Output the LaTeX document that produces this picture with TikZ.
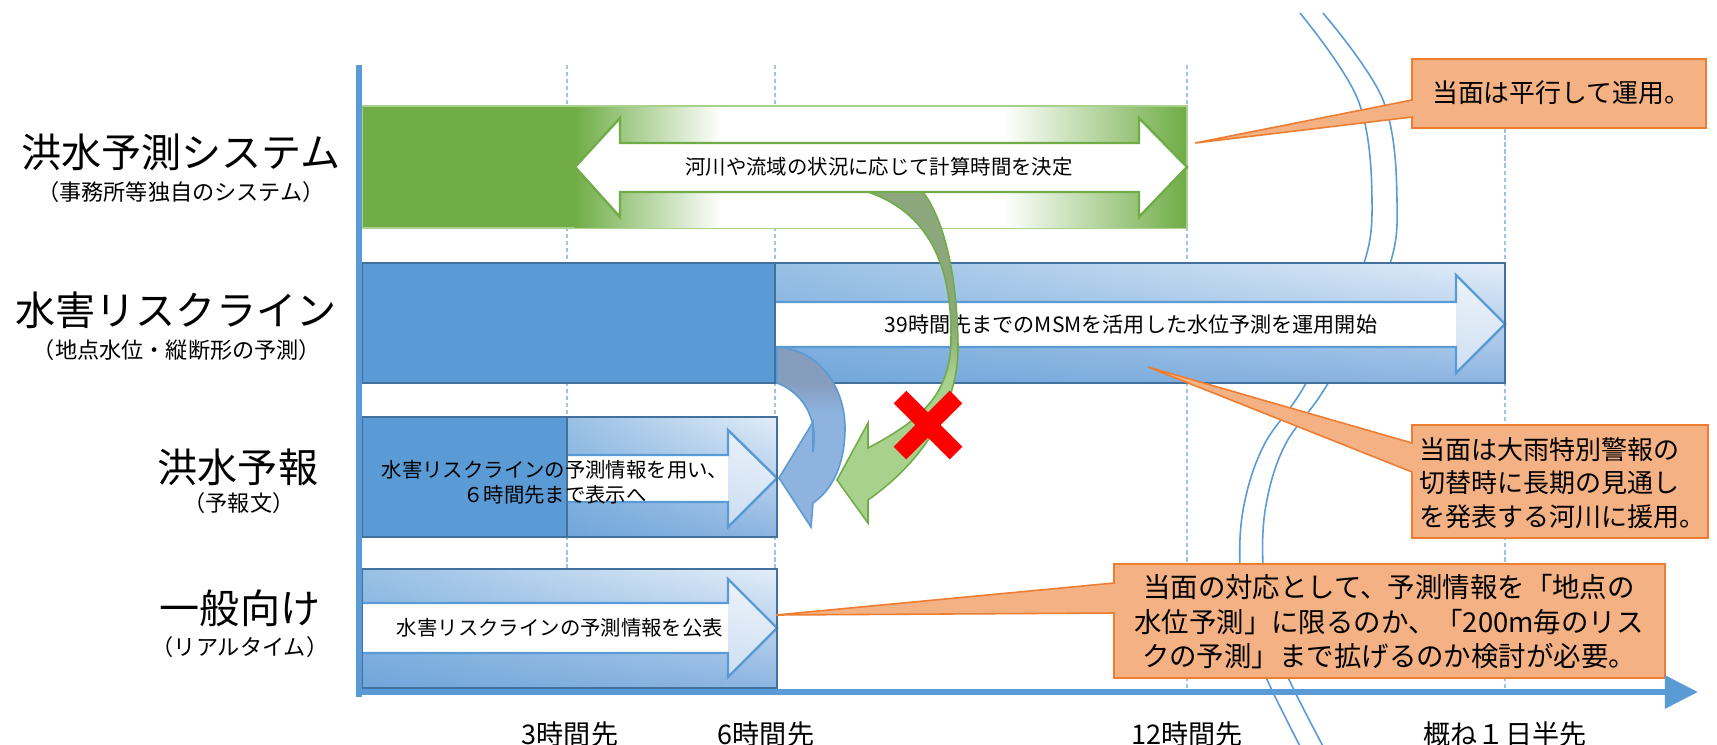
\documentclass[tikz,border=0pt]{standalone}
\usepackage{fontspec}
\setmainfont{Noto Sans CJK JP}
\usetikzlibrary{arrows.meta, fadings}

\definecolor{axisBlue}{HTML}{5B9BD5}
\definecolor{frameBlue}{HTML}{41719C}
\definecolor{gridBlue}{HTML}{9DC3E6}
\definecolor{fadeTop}{HTML}{E4EEF9}
\definecolor{fadeBottom}{HTML}{8DB5E2}
\definecolor{curveBlue}{HTML}{8EB3DF}
\definecolor{curveBlueDark}{HTML}{869CBD}
\definecolor{barGreen}{HTML}{70AD47}
\definecolor{edgeGreen}{HTML}{A9D18E}
\definecolor{curveGreenDark}{HTML}{8BA77B}
\definecolor{noteFill}{HTML}{F4B183}
\definecolor{noteLine}{HTML}{ED7D31}

% green bar: solid at the ends, white in the middle
\pgfdeclarehorizontalshading{greenband}{100bp}{color(0bp)=(barGreen); color(25bp)=(barGreen); color(37bp)=(white); color(60bp)=(white); color(75bp)=(barGreen); color(100bp)=(barGreen)}
% curved arrows: darker back side on top
\pgfdeclareverticalshading{greencurve}{100bp}{color(0bp)=(edgeGreen); color(47bp)=(edgeGreen); color(55bp)=(curveGreenDark); color(100bp)=(curveGreenDark)}
\pgfdeclareverticalshading{bluecurve}{100bp}{color(0bp)=(curveBlue); color(57bp)=(curveBlue); color(65bp)=(curveBlueDark); color(100bp)=(curveBlueDark)}
\tikzfading[name=fadeeast, left color=transparent!45, right color=transparent!100]

\begin{document}
\begin{tikzpicture}[
    x=0.01cm, y=-0.01cm,
    % Estilos
    gridline/.style={gridBlue, line width=0.3pt, dash pattern=on 1.2pt off 0.8pt},
    axisline/.style={axisBlue, line width=1.7pt},
    breakline/.style={axisBlue, line width=0.45pt},
    barframe/.style={draw=frameBlue, line width=0.57pt},
    bluearrow/.style={draw=axisBlue, line width=0.7pt},
    greenarrow/.style={draw=barGreen, line width=0.7pt, fill=white},
    rowtitle/.style={inner sep=0pt, font=\fontsize{11.4}{13}\selectfont},
    rowsub/.style={inner sep=0pt, font=\fontsize{6.3}{7.5}\selectfont},
    bartext/.style={inner sep=0pt, align=center, font=\fontsize{5.8}{7.1}\selectfont},
    notebox/.style={draw=noteLine, line width=0.45pt, fill=noteFill},
    notetext/.style={inner sep=0pt, font=\fontsize{7.4}{9.5}\selectfont},
    ticklabel/.style={inner sep=0pt, font=\fontsize{7.7}{9}\selectfont},
    redcross/.style={red, line width=5.1pt}
]
    \useasboundingbox (0,0) rectangle (1717,745);
    \fill[white] (0,0) rectangle (1717,745);

    % --- GRADE ---
    \foreach \gx in {567,775,1187,1505}
        \draw[gridline] (\gx,65) -- (\gx,692);

    % quebra do eixo do tempo
    \draw[breakline] plot[smooth, tension=0.6] coordinates {(1300,13) (1358,100) (1372,200) (1360,275) (1305,385) (1264,445) (1244,505) (1240,565) (1249,625) (1265,675) (1302,750)};
    \draw[breakline] plot[smooth, tension=0.6] coordinates {(1323,13) (1383,100) (1397,200) (1386,275) (1327,385) (1285,445) (1266,505) (1263,565) (1271,625) (1287,675) (1325,750)};

    % --- TITULOS DAS LINHAS ---
    \node[rowtitle] (t-system) at (181,152) {洪水予測システム};
    \node[rowsub] (s-system) at (181,192) {（事務所等独自のシステム）};
    \node[rowtitle] (t-riskline) at (176,310) {水害リスクライン};
    \node[rowsub] (s-riskline) at (177,350) {（地点水位・縦断形の予測）};
    \node[rowtitle] (t-forecast) at (238,467) {洪水予報};
    \node[rowsub] (s-forecast) at (239,503) {（予報文）};
    \node[rowtitle] (t-public) at (240,608) {一般向け};
    \node[rowsub] (s-public) at (240,647) {（リアルタイム）};

    % --- LINHA 1: sistema proprio ---
    \fill[barGreen, draw=edgeGreen, line width=0.4pt] (362,106) rectangle (1187,228);
    \shade[shading=greenband] (575,107) rectangle (1186,227);
    \draw[greenarrow] (575,167) -- (620,118) -- (620,143) -- (1139,143) -- (1139,118) -- (1187,167)
        -- (1139,217) -- (1139,192) -- (620,192) -- (620,217) -- cycle;
    \node[bartext] (n-system) at (879,167) {河川や流域の状況に応じて計算時間を決定};

    % --- LINHA 2: linha de risco ---
    \fill[axisBlue] (362,263) rectangle (775,383);
    \shade[top color=fadeTop, bottom color=fadeBottom] (775,263) rectangle (1505,383);
    \fill[axisBlue, path fading=fadeeast] (775,263) rectangle (1505,383);
    \fill[white, fill opacity=0.55] (775,302) -- (1456,302) -- (1456,275) -- (1505,324) -- (1456,373) -- (1456,347) -- (775,347) -- cycle;
    \fill[white] (775,302) rectangle (1456,347);
    \draw[bluearrow] (775,302) -- (1456,302) -- (1456,275) -- (1505,324) -- (1456,373) -- (1456,347) -- (775,347);
    \draw[barframe] (362,263) rectangle (1505,383) (775,263) -- (775,383);
    \node[bartext, font=\fontsize{6}{7.2}\selectfont] (n-riskline) at (1131,325) {39時間先までのMSMを活用した水位予測を運用開始};

    % --- LINHA 3: previsao de cheia ---
    \fill[axisBlue] (362,417) rectangle (567,537);
    \shade[top color=fadeTop, bottom color=fadeBottom] (567,417) rectangle (777,537);
    \fill[axisBlue, path fading=fadeeast] (567,417) rectangle (777,537);
    \fill[white, fill opacity=0.55] (567,455) -- (728,455) -- (728,430) -- (777,478) -- (728,527) -- (728,502) -- (567,502) -- cycle;
    \fill[white] (567,455) rectangle (728,502);
    \draw[bluearrow] (567,455) -- (728,455) -- (728,430) -- (777,478) -- (728,527) -- (728,502) -- (567,502);
    \draw[barframe] (362,417) rectangle (777,537) (567,417) -- (567,537);
    \node[bartext] (n-forecast) at (555,482) {水害リスクラインの予測情報を用い、\\６時間先まで表示へ};

    % --- LINHA 4: publico geral ---
    \shade[top color=fadeTop, bottom color=fadeBottom] (362,569) rectangle (777,688);
    \fill[axisBlue, path fading=fadeeast] (362,569) rectangle (777,688);
    \fill[white, fill opacity=0.55] (362,603) -- (728,603) -- (728,579) -- (777,628) -- (728,677) -- (728,653) -- (362,653) -- cycle;
    \fill[white] (362,603) rectangle (728,653);
    \draw[bluearrow] (362,603) -- (728,603) -- (728,579) -- (777,628) -- (728,677) -- (728,653) -- (362,653);
    \draw[barframe] (362,569) rectangle (777,688);
    \node[bartext] (n-public) at (560,628) {水害リスクラインの予測情報を公表};

    % --- SETAS CURVAS ---
    \shadedraw[shading=bluecurve, draw=axisBlue, line width=0.45pt]
        (777,347) .. controls (822,350) and (845,390) .. (845,428)
        .. controls (845,465) and (832,490) .. (813,503) -- (811,527) -- (779,478) -- (813,422)
        -- (813,452) .. controls (818,425) and (808,395) .. (777,383) -- cycle;
    \shadedraw[shading=greencurve, draw=barGreen, line width=0.45pt]
        (868,192) -- (923,192) .. controls (948,225) and (958,290) .. (958,350)
        .. controls (957,405) and (925,460) .. (868,500) -- (868,523) -- (837,480) -- (868,423)
        -- (868,448) .. controls (925,418) and (950,392) .. (951,340)
        .. controls (952,275) and (935,215) .. (868,192) -- cycle;
    \draw[redcross] (900,397) -- (956,453) (956,397) -- (900,453);

    % --- BALOES ---
    \draw[notebox] (1412,59) -- (1706,59) -- (1706,128) -- (1412,128) -- (1412,117) -- (1195,143) -- (1412,100) -- cycle;
    \node[notetext, font=\fontsize{7.35}{9}\selectfont] (note-parallel) at (1561,93) {当面は平行して運用。};

    \draw[notebox] (1412,425) -- (1708,425) -- (1708,538) -- (1412,538) -- (1412,472) -- (1148,367) -- (1412,443) -- cycle;
    \node[notetext, anchor=west, align=left] (note-warning) at (1419,483) {当面は大雨特別警報の\\切替時に長期の見通し\\を発表する河川に援用。};

    \draw[notebox] (1114,564) -- (1665,564) -- (1665,678) -- (1114,678) -- (1114,613) -- (776,615) -- (1114,583) -- cycle;
    \node[notetext, align=center, font=\fontsize{7.8}{9.8}\selectfont] (note-public) at (1389,622) {当面の対応として、予測情報を「地点の\\水位予測」に限るのか、「200m毎のリス\\クの予測」まで拡げるのか検討が必要。};

    % --- EIXOS ---
    \draw[axisline] (359,65) -- (359,697);
    \draw[axisline, -{Triangle[length=9.4pt, width=9.1pt]}] (356,692) -- (1698,692);

    \node[ticklabel] (tick3) at (570,734) {3時間先};
    \node[ticklabel] (tick6) at (766,734) {6時間先};
    \node[ticklabel] (tick12) at (1187,734) {12時間先};
    \node[ticklabel] (tick36) at (1505,734) {概ね１日半先};

\end{tikzpicture}
\end{document}
